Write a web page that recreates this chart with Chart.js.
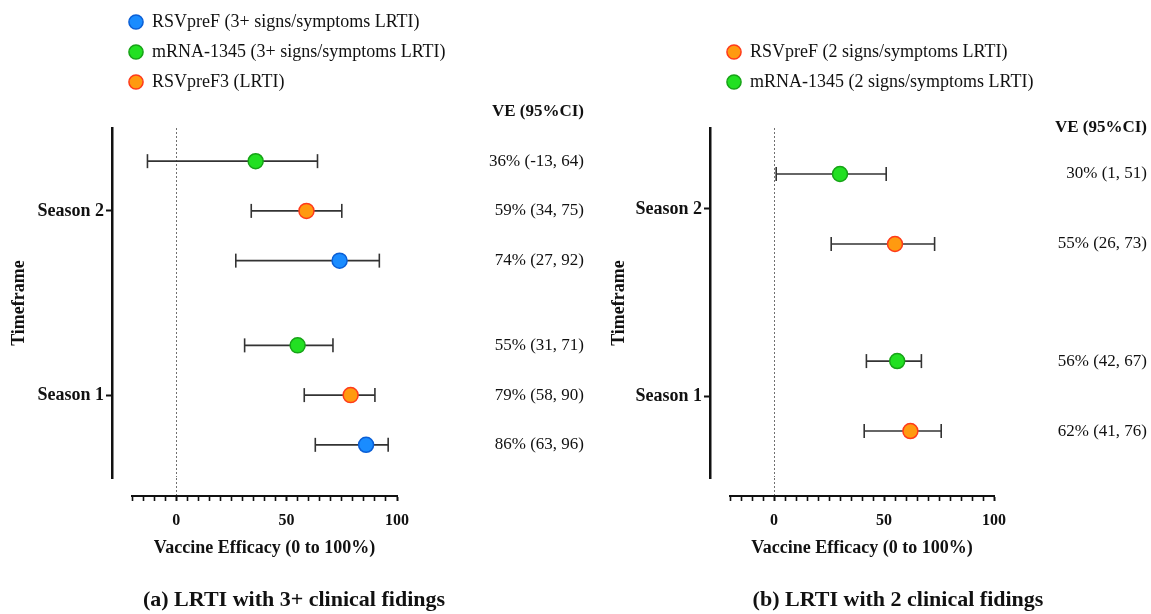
<!DOCTYPE html>
<html>
<head>
<meta charset="utf-8">
<script src="https://cdn.jsdelivr.net/npm/chart.js@4.4.1/dist/chart.umd.min.js"></script>
<style>
  html, body { margin: 0; padding: 0; background: #fff; overflow: hidden; }
  #wrap { position: relative; width: 1151px; height: 614px; overflow: hidden; background: #fff; }
  #ca { position: absolute; left: 0; top: 0; }
  #cb { position: absolute; left: 600px; top: 0; }
</style>
</head>
<body>
<div id="wrap">
  <canvas id="ca" width="600" height="614"></canvas>
  <canvas id="cb" width="592" height="614"></canvas>
</div>
<script>
// ---------------- DATA ----------------
const SEASON_LABELS = ['Season 1', 'Season 2'];           // y = 1, 2
const X_TICK_LABELS = [0, 50, 100];
const X_MIN = -20, X_MAX = 100, X_MINOR_STEP = 5;

// Panel (a): LRTI with 3+ clinical findings — values per series as [Season 1, Season 2]
const A_SERIES = ['RSVpreF (3+ signs/symptoms LRTI)', 'mRNA-1345 (3+ signs/symptoms LRTI)', 'RSVpreF3 (LRTI)'];
const A_VE = [[86, 74], [55, 36], [79, 59]];
const A_LO = [[63, 27], [31, -13], [58, 34]];
const A_HI = [[96, 92], [71, 64], [90, 75]];

// Panel (b): LRTI with 2 clinical findings
const B_SERIES = ['RSVpreF (2 signs/symptoms LRTI)', 'mRNA-1345 (2 signs/symptoms LRTI)'];
const B_VE = [[62, 55], [56, 30]];
const B_LO = [[41, 26], [42, 1]];
const B_HI = [[76, 73], [67, 51]];

const HEADER = 'VE (95%CI)';

// ---------------- STYLE / LAYOUT ----------------
const FAMILY = "'Liberation Serif', 'Times New Roman', serif";
const BLUE = { fill: '#1a8cff', stroke: '#0b5fd6' };
const GREEN = { fill: '#22e022', stroke: '#17a317' };
const ORANGE = { fill: '#ff9a10', stroke: '#ff3a1a' };

function legendFix(height, shift, drawWidth) {
  return {
    id: 'legendFix',
    beforeLayout(chart) {
      const lg = chart.legend;
      if (lg && !lg._fixed) {
        const fit = lg.fit;
        lg.fit = function () { fit.call(this); this.height = height; };
        lg._fixed = true;
      }
    },
    afterLayout(chart) {
      const lg = chart.legend;
      if (lg) {
        lg.left += shift;
        lg.right = lg.left + drawWidth;
        lg.width = drawWidth;
      }
    }
  };
}

function makePanel(canvas, p) {
  const datasets = [];
  p.names.forEach((name, s) => {
    datasets.push({
      label: name,
      data: p.ve[s].map((v, k) => ({ x: v, y: k + 1 + p.offsets[s] })),
      backgroundColor: p.colors[s].fill,
      borderColor: p.colors[s].stroke,
      borderWidth: 1.5,
      pointRadius: 7.5,
      pointHoverRadius: 7.5,
      pointStyle: 'circle'
    });
  });
  p.names.forEach((name, s) => {
    p.ve[s].forEach((v, k) => {
      const y = k + 1 + p.offsets[s];
      datasets.push({
        label: '_ci',
        data: [{ x: p.lo[s][k], y }, { x: p.hi[s][k], y }],
        showLine: true,
        borderColor: '#333',
        borderWidth: 1.6,
        pointStyle: 'line',
        pointRotation: 90,
        pointRadius: 7,
        pointHoverRadius: 7,
        pointBorderColor: '#333',
        pointBorderWidth: 1.6,
        pointBackgroundColor: '#333'
      });
    });
  });

  const veTicks = [];
  p.names.forEach((n, s) => p.ve[s].forEach((v, k) => {
    veTicks.push({ value: k + 1 + p.offsets[s], text: `${v}% (${p.lo[s][k]}, ${p.hi[s][k]})` });
  }));
  veTicks.push({ value: p.headerY, text: HEADER, header: true });
  veTicks.sort((a, b) => a.value - b.value);

  const scales = {
    x: {
      type: 'linear', position: 'bottom', weight: 1, min: X_MIN, max: X_MAX,
      afterBuildTicks: ax => { const t = []; for (let v = X_MIN; v <= X_MAX; v += X_MINOR_STEP) t.push({ value: v }); ax.ticks = t; },
      afterFit: ax => { ax.height = 63.6; },
      ticks: {
        autoSkip: false, maxRotation: 0, minRotation: 0, padding: 10, color: '#111',
        font: { family: FAMILY, size: 16, weight: 'bold' },
        callback: v => X_TICK_LABELS.includes(v) ? String(v) : ''
      },
      grid: {
        display: true, drawOnChartArea: true, drawTicks: true, tickLength: 5,
        color: ctx => (ctx.tick && ctx.tick.value === 0) ? '#707070' : 'rgba(0,0,0,0)',
        lineWidth: 1, tickColor: '#111',
        tickWidth: ctx => (ctx.tick && X_TICK_LABELS.includes(ctx.tick.value)) ? 2 : 1.6
      },
      border: { display: true, color: '#111', width: 2, dash: [2, 2] },
      title: { display: true, text: 'Vaccine Efficacy (0 to 100%)', color: '#111', font: { family: FAMILY, size: 18, weight: 'bold' }, padding: { top: 0, bottom: 0 } }
    },
    y: {
      type: 'linear', position: 'left', weight: 1, min: p.yMin, max: p.yMax,
      afterBuildTicks: ax => { ax.ticks = [{ value: 1 }, { value: 2 }]; },
      afterFit: ax => { ax.width = p.yAxisWidth; },
      ticks: {
        autoSkip: false, padding: 2, color: '#111',
        font: { family: FAMILY, size: 18, weight: 'bold' },
        callback: v => SEASON_LABELS[Math.round(v) - 1]
      },
      grid: { display: true, drawOnChartArea: false, drawTicks: true, tickLength: 6, tickColor: '#111', tickWidth: 2, color: '#111' },
      border: { display: true, color: '#111', width: 2.5 },
      title: { display: true, text: 'Timeframe', color: '#111', font: { family: FAMILY, size: 18, weight: 'bold' }, padding: { top: 5, bottom: 0 } }
    },
    xs: {
      type: 'linear', position: 'bottom', weight: 0, min: X_MIN, max: X_MAX,
      afterBuildTicks: ax => { ax.ticks = [{ value: 0 }]; },
      ticks: { display: false },
      grid: { display: true, drawOnChartArea: false, drawTicks: true, tickLength: 18, color: 'rgba(0,0,0,0)', tickColor: '#707070', tickWidth: 1, tickBorderDash: [2, 2] },
      border: { display: false }
    },
    ys: {
      type: 'linear', position: 'left', weight: 0,
      ticks: { display: false }, grid: { display: false }, border: { display: false },
      afterFit: ax => { ax.width = 20; }
    },
    yr: {
      type: 'linear', position: 'right', weight: 0, min: p.yMin, max: p.yMax,
      afterBuildTicks: ax => { ax.ticks = veTicks.map(t => Object.assign({}, t)); },
      afterFit: ax => { ax.width = p.veWidth; },
      ticks: {
        autoSkip: false, crossAlign: 'far', padding: 0, color: '#111',
        font: ctx => (ctx.tick && ctx.tick.header) ? { family: FAMILY, size: 17, weight: 'bold' } : { family: FAMILY, size: 17 },
        callback: (v, i, t) => t[i].text
      },
      grid: { display: false, drawTicks: false }, border: { display: false }
    }
  };
  if (p.rightSpace) {
    scales.yrs = {
      type: 'linear', position: 'right', weight: 1,
      ticks: { display: false }, grid: { display: false }, border: { display: false },
      afterFit: ax => { ax.width = p.rightSpace; }
    };
  }

  return new Chart(canvas, {
    type: 'scatter',
    data: { datasets },
    options: {
      responsive: false, animation: false, events: [], devicePixelRatio: 1,
      layout: { padding: { left: 4, right: p.padRight, top: p.padTop, bottom: 0 }, autoPadding: false },
      scales,
      plugins: {
        tooltip: { enabled: false },
        legend: {
          display: true, position: 'top', align: 'start', fullSize: false,
          labels: {
            usePointStyle: true, pointStyle: 'circle', boxWidth: 14, boxHeight: 10, padding: 12,
            color: '#111', font: { family: FAMILY, size: 18 },
            filter: item => item.datasetIndex < p.names.length
          }
        },
        title: {
          display: true, position: 'bottom', text: p.title, color: '#111',
          font: { family: FAMILY, size: 22, weight: 'bold' }, padding: { top: 28, bottom: 0 }
        }
      }
    },
    plugins: [legendFix(p.legendHeight, -15, 400)]
  });
}

makePanel(document.getElementById('ca'), {
  names: A_SERIES, ve: A_VE, lo: A_LO, hi: A_HI,
  colors: [BLUE, GREEN, ORANGE],
  offsets: [-0.27, 0.27, 0],
  yMin: 0.55, yMax: 2.45, headerY: 2.537,
  yAxisWidth: 108, veWidth: 187, padRight: 16, rightSpace: 0,
  padTop: 1, legendHeight: 127,
  title: '(a) LRTI with 3+ clinical fidings'
});

makePanel(document.getElementById('cb'), {
  names: B_SERIES, ve: B_VE, lo: B_LO, hi: B_HI,
  colors: [ORANGE, GREEN],
  offsets: [-0.187, 0.187],
  yMin: 0.562, yMax: 2.433, headerY: 2.433,
  yAxisWidth: 106, veWidth: 153, padRight: 0, rightSpace: 45,
  padTop: 31, legendHeight: 97,
  title: '(b) LRTI with 2 clinical fidings'
});
</script>
</body>
</html>
